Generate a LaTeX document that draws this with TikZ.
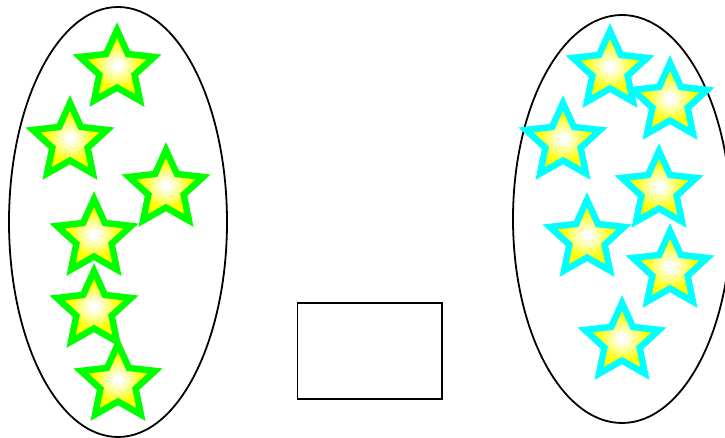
\documentclass[tikz,border=0pt]{standalone}
\usepackage{tikz}
\usetikzlibrary{shapes.geometric}

\definecolor{stargreen}{RGB}{0,255,0}
\definecolor{staraqua}{RGB}{0,255,255}
\definecolor{staryellow}{RGB}{255,255,0}
\pgfdeclareradialshading{starglow}{\pgfpoint{0bp}{0bp}}{color(0bp)=(white); color(2bp)=(white); color(9bp)=(staryellow!45!white); color(16bp)=(staryellow); color(50bp)=(staryellow)}

\begin{document}
\begin{tikzpicture}[x=1pt, y=-1pt,
  gstar/.style={star, star points=5, star point ratio=2.1, minimum size=78pt, inner sep=0pt,
    line width=6.5pt, draw=stargreen, shading=starglow},
  cstar/.style={gstar, draw=staraqua}]

\useasboundingbox (0,0) rectangle (725,438);
\clip (0,0) rectangle (725,438);

% Sets
\draw[line width=1.8pt] (118,222) ellipse [x radius=109, y radius=215];
\draw[line width=1.8pt] (622,219) ellipse [x radius=109, y radius=204];

% Box in the middle
\draw[line width=1.8pt] (297.5,303) rectangle (442,399);

% Green stars, left set
\node[gstar] at (117,69) (g1) {};
\node[gstar] at (70,142) (g2) {};
\node[gstar] at (166,189) (g3) {};
\node[gstar] at (94,238) (g4) {};
\node[gstar] at (94,310) (g5) {};
\node[gstar] at (118,383) (g6) {};

% Cyan stars, right set
\node[cstar] at (610,70) (c1) {};
\node[cstar] at (670,102) (c2) {};
\node[cstar] at (563,142) (c3) {};
\node[cstar] at (659,190) (c4) {};
\node[cstar] at (587,239) (c5) {};
\node[cstar] at (670,270) (c6) {};
\node[cstar] at (622,342) (c7) {};

\end{tikzpicture}
\end{document}
